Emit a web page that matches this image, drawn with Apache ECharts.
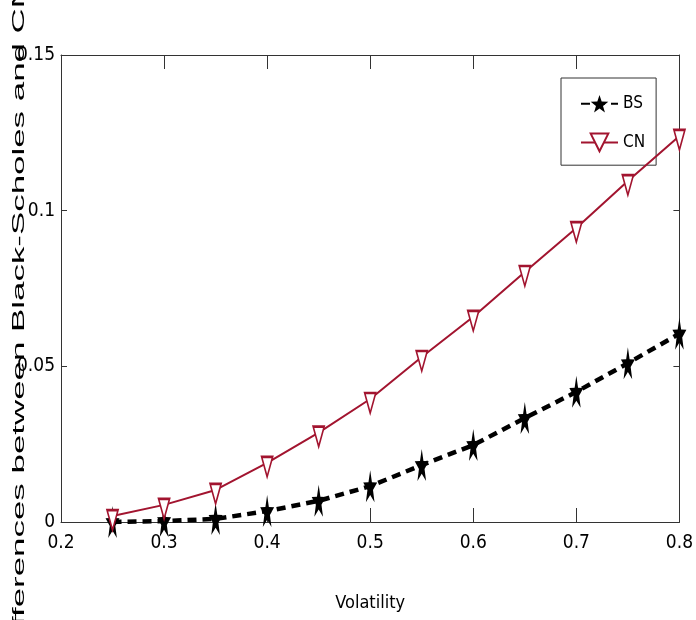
<!DOCTYPE html>
<html>
<head>
<meta charset="utf-8">
<script src="https://cdn.jsdelivr.net/npm/echarts@6/dist/echarts.min.js"></script>
<style>
html,body{margin:0;padding:0;background:#fff;}
#main{width:696px;height:620px;}
</style>
</head>
<body>
<div id="main"></div>
<script>
const volatility = [0.25, 0.30, 0.35, 0.40, 0.45, 0.50, 0.55, 0.60, 0.65, 0.70, 0.75, 0.80];
const bsValues = [0.0000, 0.0003, 0.0010, 0.0035, 0.0068, 0.0115, 0.0183, 0.0247, 0.0334, 0.0418, 0.0510, 0.0605];
const cnValues = [0.0019, 0.0055, 0.0103, 0.0190, 0.0287, 0.0395, 0.0530, 0.0659, 0.0803, 0.0944, 0.1095, 0.1240];
const seriesNames = ['BS', 'CN'];
const xAxisTitle = 'Volatility';
const yAxisTitle = 'Differences between Black-Scholes and CN';

const STAR = 'path://M0,-10 L2.35,-3.24 L9.51,-3.09 L3.8,1.24 L5.88,8.09 L0,4 L-5.88,8.09 L-3.8,1.24 L-9.51,-3.09 L-2.35,-3.24 Z';
const RED = '#A2142F';
const AX = '#333333';
const NARROW = '"Liberation Sans Narrow", "DejaVu Sans Condensed", "Arial Narrow", sans-serif';

const chart = echarts.init(document.getElementById('main'));
const pairs = (xs, ys) => xs.map((x, i) => [x, ys[i]]);

chart.setOption({
  animation: false,
  backgroundColor: '#ffffff',
  grid: { left: 61, right: 11, top: 55, bottom: 98, containLabel: false },
  legend: {
    orient: 'vertical',
    left: 561, top: 78,
    padding: [17, 11, 13, 19],
    itemGap: 20,
    itemWidth: 37, itemHeight: 22,
    borderColor: AX, borderWidth: 1,
    backgroundColor: '#fff',
    data: seriesNames,
    textStyle: { fontFamily: NARROW, fontSize: 17, color: '#000' }
  },
  xAxis: [{
    type: 'value', min: 0.2, max: 0.8, interval: 0.1,
    name: xAxisTitle, nameLocation: 'middle', nameGap: 72,
    nameTextStyle: { fontFamily: NARROW, fontSize: 18, color: '#000' },
    axisLine: { show: true, onZero: false, lineStyle: { color: AX, width: 1 } },
    axisTick: { show: true, inside: true, length: 14, lineStyle: { color: AX } },
    axisLabel: { fontFamily: NARROW, fontSize: 19, color: '#000', margin: 12 },
    splitLine: { show: false }
  }, {
    type: 'value', min: 0.2, max: 0.8, interval: 0.1, position: 'top',
    axisLine: { show: true, onZero: false, lineStyle: { color: AX, width: 1 } },
    axisTick: { show: true, inside: true, length: 14, lineStyle: { color: AX } },
    axisLabel: { show: false },
    splitLine: { show: false }
  }],
  yAxis: [{
    type: 'value', min: 0, max: 0.15, interval: 0.05,
    axisLine: { show: true, onZero: false, lineStyle: { color: AX, width: 1 } },
    axisTick: { show: true, inside: true, length: 6, lineStyle: { color: AX } },
    axisLabel: { fontFamily: NARROW, fontSize: 19, color: '#000', margin: 6 },
    splitLine: { show: false }
  }, {
    type: 'value', min: 0, max: 0.15, interval: 0.05, position: 'right',
    axisLine: { show: true, onZero: false, lineStyle: { color: AX, width: 1 } },
    axisTick: { show: true, inside: true, length: 6, lineStyle: { color: AX } },
    axisLabel: { show: false },
    splitLine: { show: false }
  }],
  graphic: [{
    type: 'text',
    x: 20, y: 321,
    rotation: Math.PI / 2,
    scaleX: 2.18, scaleY: 1,
    style: {
      text: yAxisTitle,
      fontFamily: '"Liberation Sans", Arial, sans-serif',
      fontSize: 16,
      fill: '#000',
      align: 'center',
      verticalAlign: 'middle'
    },
    z: 10
  }],
  series: [{
    name: seriesNames[0],
    type: 'line',
    data: pairs(volatility, bsValues),
    smooth: false,
    symbol: STAR,
    symbolSize: [14, 32],
    showAllSymbol: true,
    lineStyle: { color: '#000', width: 4.5, type: [9, 6] },
    itemStyle: { color: '#000', borderWidth: 0 },
    z: 3
  }, {
    name: seriesNames[1],
    type: 'line',
    data: pairs(volatility, cnValues),
    smooth: false,
    symbol: 'triangle',
    symbolRotate: 180,
    symbolSize: [11, 20],
    symbolOffset: [0, 4],
    showAllSymbol: true,
    lineStyle: { color: RED, width: 2 },
    itemStyle: { color: '#fff', borderColor: RED, borderWidth: 2 },
    z: 4
  }]
});
</script>
</body>
</html>
